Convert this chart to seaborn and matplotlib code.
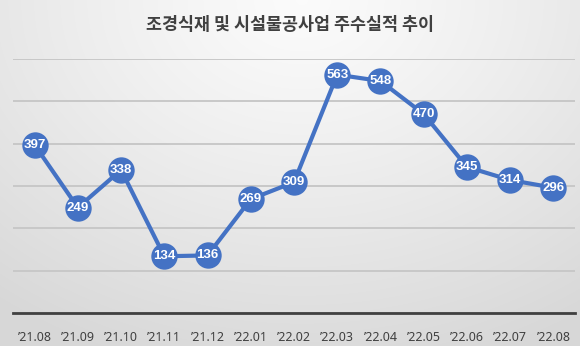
import numpy as np
import pandas as pd
import matplotlib
matplotlib.use("Agg")
import matplotlib.pyplot as plt
import seaborn as sns

# Monthly performance data
months = ["’21.08", "’21.09", "’21.10", "’21.11", "’21.12", "’22.01", "’22.02",
          "’22.03", "’22.04", "’22.05", "’22.06", "’22.07", "’22.08"]
values = [397, 249, 338, 134, 136, 269, 309, 563, 548, 470, 345, 314, 296]
title = "조경식재 및 시설물공사업 주수실적 추이"

sns.set_theme(style="white")
plt.rcParams["font.family"] = ["Noto Sans CJK KR", "DejaVu Sans"]

W, H, DPI = 580, 346, 100
fig = plt.figure(figsize=(W / DPI, H / DPI), dpi=DPI)

# Soft radial background
bg = fig.add_axes([0, 0, 1, 1], zorder=-10)
yy, xx = np.mgrid[0:H, 0:W]
cx, cy = 0.52 * W, 0.0 * H
r = np.sqrt(((xx - cx) / W) ** 2 + ((yy - cy) / (H * 1.3)) ** 2)
r = np.clip(r / 0.85, 0, 1)
shade = 0.985 - 0.14 * r ** 1.2
bg.imshow(np.dstack([shade, shade, shade]), extent=[0, 1, 0, 1], aspect="auto")
bg.axis("off")

ax = fig.add_axes([13 / W, (H - 313) / H, (575 - 13) / W, (313 - 59) / H])
ax.patch.set_alpha(0)

df = pd.DataFrame({"month": months, "value": values})
blue = "#4472C4"
sns.lineplot(data=df, x="month", y="value", ax=ax, color=blue, linewidth=3.0,
             marker="o", markersize=19, markeredgewidth=0, sort=False, zorder=5)

for i, v in enumerate(values):
    ax.text(i, v, str(v), ha="center", va="center", color="white",
            fontsize=9.5, fontweight="bold", family="Liberation Sans", zorder=6)

ax.set_xlim(-0.5, len(months) - 0.5)
ax.set_ylim(0, 600)
ax.set_yticks(range(0, 700, 100))
ax.yaxis.grid(True, color="#c8c8c8", linewidth=1.4)
ax.set_axisbelow(True)
ax.tick_params(axis="y", left=False, labelleft=False)
ax.tick_params(axis="x", bottom=False, labelsize=9, labelcolor="#404040", pad=7)
for lbl in ax.get_xticklabels():
    lbl.set_family("Noto Sans")
for side in ["top", "left", "right"]:
    ax.spines[side].set_visible(False)
ax.spines["bottom"].set_color("#404040")
ax.spines["bottom"].set_linewidth(2.0)
ax.set_xlabel("")
ax.set_ylabel("")

fig.text(0.5, (H - 25) / H, title, ha="center", va="center", fontsize=12.5,
         fontweight="bold", color="#404040")

fig.savefig("out.png", dpi=DPI)
